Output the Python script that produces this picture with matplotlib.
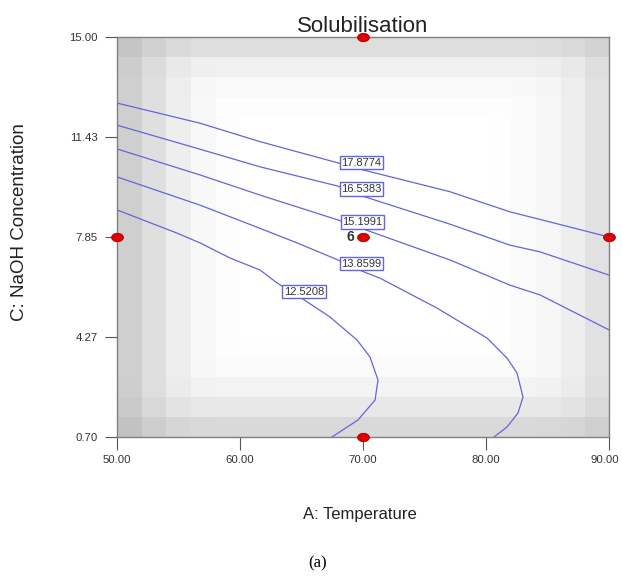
import numpy as np
import matplotlib.pyplot as plt
from matplotlib.transforms import ScaledTranslation

plt.rcParams['font.family'] = ['Liberation Sans', 'DejaVu Sans']

# Contour lines (A: Temperature, C: NaOH Concentration)
c17_x = [50.00, 56.75, 61.63, 67.97, 70.00, 77.07, 81.95, 84.39, 90.00]
c17_y = [12.64, 11.92, 11.26, 10.50, 10.25, 9.47, 8.75, 8.48, 7.85]

c16_x = [50.00, 56.75, 61.63, 67.97, 69.92, 77.07, 81.95, 84.39, 90.00]
c16_y = [11.85, 10.99, 10.36, 9.67, 9.32, 8.31, 7.56, 7.32, 6.49]

c15_x = [50.00, 56.75, 61.63, 67.97, 70.00, 77.07, 81.95, 84.39, 90.00]
c15_y = [11.00, 10.07, 9.35, 8.46, 8.14, 7.03, 6.13, 5.78, 4.53]

c13_x = [50.00, 56.75, 61.63, 64.47, 67.97, 69.92, 71.38, 76.02, 77.64, 80.08,
         81.71, 82.52, 83.01, 82.60, 81.71, 80.65]
c13_y = [10.00, 8.99, 8.16, 7.67, 7.03, 6.63, 6.38, 5.31, 4.88, 4.24,
         3.52, 2.99, 2.13, 1.56, 1.06, 0.70]

c12_x = [50.00, 54.88, 56.75, 59.19, 61.63, 63.01, 65.12, 67.32, 69.51, 70.57,
         71.22, 70.98, 69.59, 67.48]
c12_y = [8.82, 7.99, 7.64, 7.10, 6.67, 6.21, 5.63, 4.99, 4.17, 3.56,
         2.74, 2.02, 1.31, 0.70]

levels = ['17.8774', '16.5383', '15.1991', '13.8599', '12.5208']
label_x = [69.88, 69.88, 69.96, 69.88, 65.20]
label_y = [10.51, 9.57, 8.39, 6.90, 5.90]

# design points
pts_x = [70, 50, 70, 90, 70]
pts_y = [15.00, 7.85, 7.85, 7.85, 0.70]

xticks = [50, 60, 70, 80, 90]
xtick_labels = ['50.00', '60.00', '70.00', '80.00', '90.00']
yticks = [0.70, 4.27, 7.85, 11.43, 15.00]
ytick_labels = ['0.70', '4.27', '7.85', '11.43', '15.00']

# grey shading of the background, darkness per column (left->right) and row (top->bottom)
col_dark = [48, 32, 17, 7, 2, 0, 0, 0, 0, 0, 0, 0, 0, 0, 0, 1, 4, 9, 17, 30]
row_dark = [33, 15, 6, 2, 0, 0, 0, 0, 0, 0, 0, 0, 0, 0, 0, 1, 4, 11, 23, 38]

blue = '#6464dc'

fig = plt.figure(figsize=(6.22, 5.77), dpi=100)
ax = fig.add_axes([0.1881, 0.2426, 0.7910, 0.6932])

cx, ry = np.meshgrid(col_dark, row_dark)
shade = 255 - np.sqrt(cx ** 2 + ry ** 2)
ax.imshow(shade, cmap='gray', vmin=0, vmax=255, extent=[50, 90, 0.70, 15.00],
          aspect='auto', interpolation='nearest', zorder=0)

for xs, ys in [(c17_x, c17_y), (c16_x, c16_y), (c15_x, c15_y), (c13_x, c13_y), (c12_x, c12_y)]:
    ax.plot(xs, ys, color=blue, lw=0.9, zorder=2)

for lab, lx, ly in zip(levels, label_x, label_y):
    ax.text(lx, ly, lab, fontsize=8, color='#333333', ha='center', va='center', zorder=3,
            bbox=dict(boxstyle='square,pad=0.15', fc='white', ec=blue, lw=1))

# elliptical red markers
t = np.linspace(0, 2 * np.pi, 40)
ell = np.column_stack([1.4 * np.cos(t), np.sin(t)])
ax.plot(pts_x, pts_y, linestyle='none', marker=ell, markersize=8.5,
        mfc='#e00000', mec='#a00000', mew=0.6, clip_on=False, zorder=5)
ax.text(69.3, 7.85, '6', fontsize=10, fontweight='bold', color='#333333',
        ha='right', va='center', zorder=4)

ax.set_xlim(50, 90)
ax.set_ylim(0.70, 15.00)
ax.set_xticks(xticks)
ax.set_xticklabels(xtick_labels)
ax.set_yticks(yticks)
ax.set_yticklabels(ytick_labels)
ax.tick_params(direction='out', length=9, width=0.8, color='#555555',
               labelsize=8.2, labelcolor='#333333')
ax.tick_params(axis='x', pad=4)
ax.tick_params(axis='y', pad=5)
for s in ax.spines.values():
    s.set_color('#808080')
    s.set_linewidth(1)

# last x tick label sits right at the figure edge, nudge it in a bit
last = ax.get_xticklabels()[-1]
last.set_transform(last.get_transform() + ScaledTranslation(-4 / 100, 0, fig.dpi_scale_trans))

ax.set_title('Solubilisation', fontsize=16, color='#222222', pad=2)
fig.text(360 / 622, 1 - 515 / 577, 'A: Temperature', fontsize=12, color='#222222',
         ha='center', va='center')
fig.text(20 / 622, 1 - 222 / 577, 'C: NaOH Concentration', fontsize=13.5, color='#222222',
         ha='center', va='center', rotation=90)

fig.text(318 / 622, 1 - 563 / 577, '(a)', fontsize=12, family='Liberation Serif',
         ha='center', va='center')

fig.savefig('out.png', dpi=100)
